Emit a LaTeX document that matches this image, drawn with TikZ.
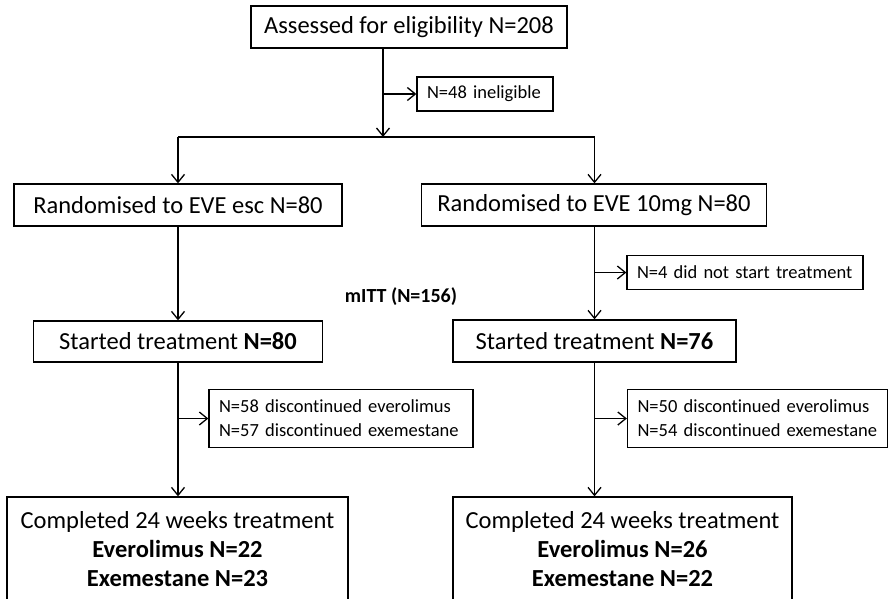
\documentclass[tikz,border=0pt]{standalone}
\usepackage{fontspec}
\setmainfont{Carlito}[Ligatures=NoCommon]
\usetikzlibrary{arrows.meta}
\newcommand{\nolig}{{\kern0pt}}
\begin{document}
\begin{tikzpicture}[x=1pt,y=-1pt,
  box/.style={draw, line width=1.3pt, inner sep=0pt, font=\fontsize{24.5}{29}\selectfont},
  sbox/.style={draw, line width=1.3pt, inner xsep=10pt, inner ysep=0pt, font=\fontsize{18.5}{24}\selectfont, align=left},
  conn/.style={line width=1.3pt},
  arr/.style={conn, -{Straight Barb[length=8pt,width=13pt,line width=1.3pt]}}
]
\useasboundingbox (0,0) rectangle (889,598);
\clip (0,0) rectangle (889,598);
\coordinate (cL) at (178,0);
\coordinate (cR) at (594.5,0);
\coordinate (split) at (383,137);

\node[box, minimum width=316, minimum height=42] (elig) at (409,27) {Assessed for eligibility N=208};
\node[sbox, minimum height=34, text width=116] (inel) at (485,94) {N=48 ineligible};

\node[box, minimum width=328, minimum height=42] (rand1) at (178,205) {Randomised to EVE esc N=80};
\node[box, minimum width=345, minimum height=42] (rand2) at (594,205) {Randomised to EVE 10mg N=80};

\node[sbox, minimum height=34, text width=216] (notstart) at (745,272.5) {N=4 did not start treatment};
\node[font=\bfseries\fontsize{20}{24}\selectfont] (mitt) at (401,297) {mITT (N=156)};

\node[box, minimum width=289, minimum height=41] (start1) at (178,341.5) {Started treatment \textbf{N=80}};
\node[box, minimum width=283, minimum height=42] (start2) at (594.5,341) {Started treatment \textbf{N=76}};

\node[sbox, minimum height=58, text width=244] (disc1) at (341,418.5) {N=58 discont\nolig inued everolimus\\N=57 discont\nolig inued exemestane};
\node[sbox, minimum height=58, text width=240] (disc2) at (757.5,418.5) {N=50 discont\nolig inued everolimus\\N=54 discont\nolig inued exemestane};

\node[box, minimum width=341, minimum height=104, align=center] (comp1) at (177.5,549) {Completed 24 weeks treatment\\\textbf{Everolimus N=22}\\\textbf{Exemestane N=23}};
\node[box, minimum width=339, minimum height=104, align=center] (comp2) at (622.5,549) {Completed 24 weeks treatment\\\textbf{Everolimus N=26}\\\textbf{Exemestane N=22}};

\draw[arr] (elig.south -| split) -- (split);
\draw[arr] (inel.west -| split) -- (inel.west);
\draw[conn] (split -| cL) -- (split -| cR);
\draw[arr] (split -| cL) -- (rand1.north -| cL);
\draw[arr] (split -| cR) -- (rand2.north -| cR);

\draw[arr] (rand1.south -| cL) -- (start1.north -| cL);
\draw[arr] (rand2.south -| cR) -- (start2.north -| cR);
\draw[arr] (notstart.west -| cR) -- (notstart.west);

\draw[arr] (start1.south -| cL) -- (comp1.north -| cL);
\draw[arr] (disc1.west -| cL) -- (disc1.west);
\draw[arr] (start2.south -| cR) -- (comp2.north -| cR);
\draw[arr] (disc2.west -| cR) -- (disc2.west);
\end{tikzpicture}
\end{document}
